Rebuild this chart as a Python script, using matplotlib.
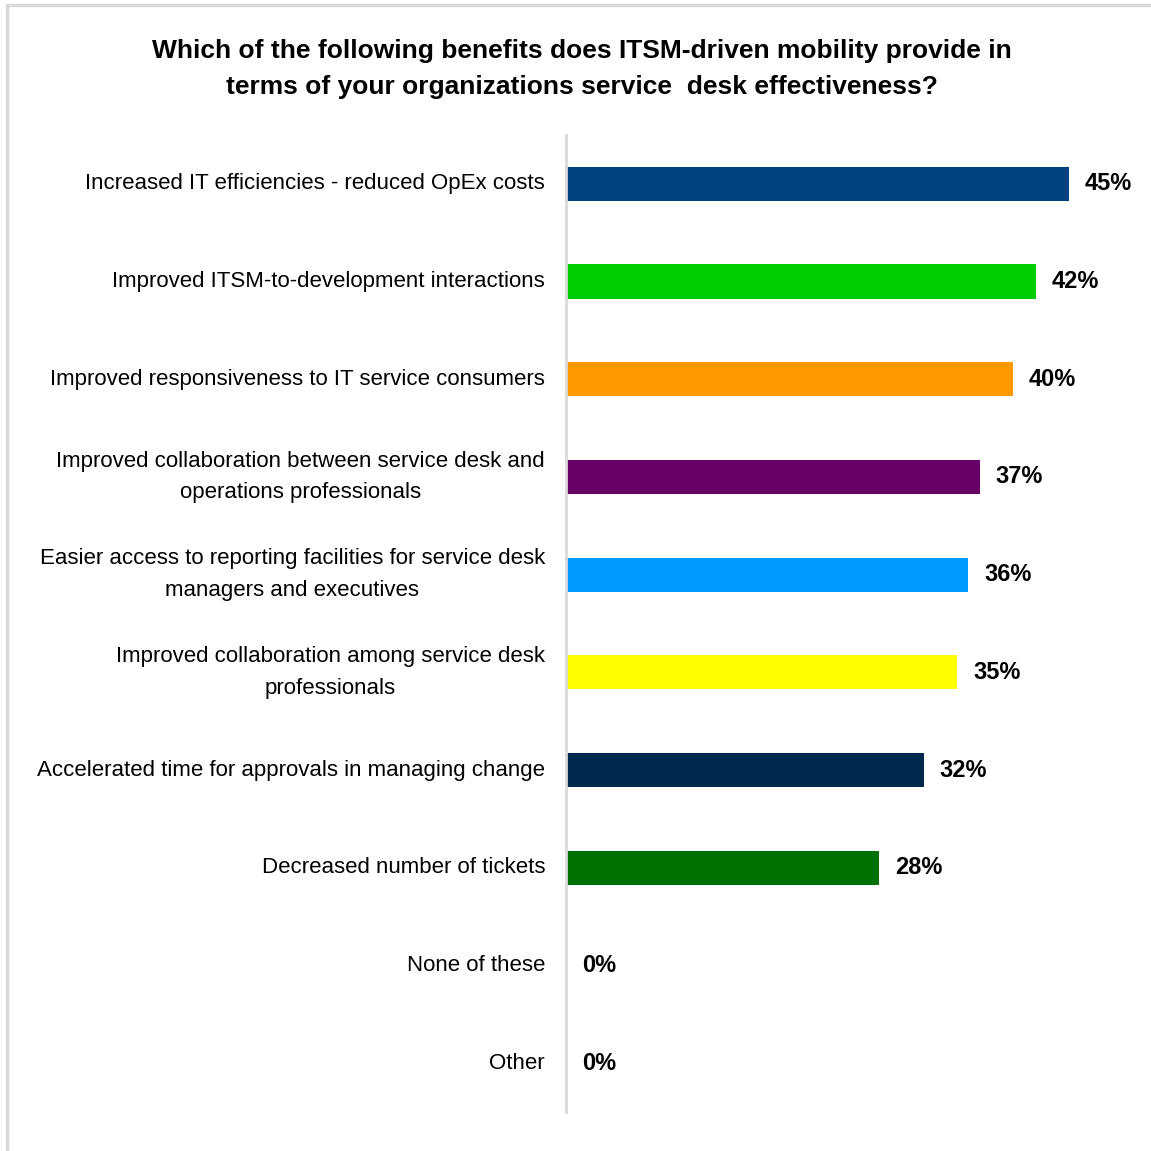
import matplotlib.pyplot as plt
from matplotlib.patches import Rectangle

categories = [
    "Increased IT efficiencies - reduced OpEx costs",
    "Improved ITSM-to-development interactions",
    "Improved responsiveness to IT service consumers",
    "Improved collaboration between service desk and\noperations professionals",
    "Easier access to reporting facilities for service desk\nmanagers and executives",
    "Improved collaboration among service desk\nprofessionals",
    "Accelerated time for approvals in managing change",
    "Decreased number of tickets",
    "None of these",
    "Other",
]
values = [45, 42, 40, 37, 36, 35, 32, 28, 0, 0]
colors = ["#00427F", "#00CC00", "#FF9900", "#660066", "#0099FF",
          "#FFFF00", "#002A4D", "#007000", "#CCCCCC", "#CCCCCC"]

plt.rcParams['font.family'] = ['Liberation Sans', 'DejaVu Sans']

fig = plt.figure(figsize=(11.51, 11.51), dpi=100)
# light frame around the chart area
fig.patches.append(Rectangle((7 / 1151, -0.01), 1.1, 1 - 5 / 1151 + 0.01,
                             transform=fig.transFigure, facecolor="white",
                             edgecolor="#D9D9D9", linewidth=2.5, zorder=-1))

ax = fig.add_axes([566 / 1151, 1 - 1112 / 1151, 559 / 1151, (1112 - 135) / 1151])
y = list(range(len(categories)))
ax.barh(y, values, height=0.35, color=colors)
ax.set_ylim(len(categories) - 0.5, -0.5)
ax.set_xlim(0, 50)

for yi, v in zip(y, values):
    ax.text(v + 1.4, yi, f"{v}%", va="center", ha="left", fontsize=17,
            fontweight="bold", clip_on=False)

# category labels, right edge just left of the axis line
for yi, lab in zip(y, categories):
    ax.text(-21 / 559, yi, lab, transform=ax.get_yaxis_transform(),
            ha="right", va="center", multialignment="center",
            fontsize=16, linespacing=1.65, clip_on=False)

ax.set_yticks([])
ax.set_xticks([])
for s in ["top", "right", "bottom"]:
    ax.spines[s].set_visible(False)
ax.spines["left"].set_color("#D9D9D9")
ax.spines["left"].set_linewidth(2)

fig.text(582 / 1151, 1 - 69 / 1151,
         "Which of the following benefits does ITSM-driven mobility provide in\n"
         "terms of your organizations service  desk effectiveness?",
         ha="center", va="center", fontsize=19, fontweight="bold", linespacing=1.65)

fig.savefig("out.png", dpi=100)
